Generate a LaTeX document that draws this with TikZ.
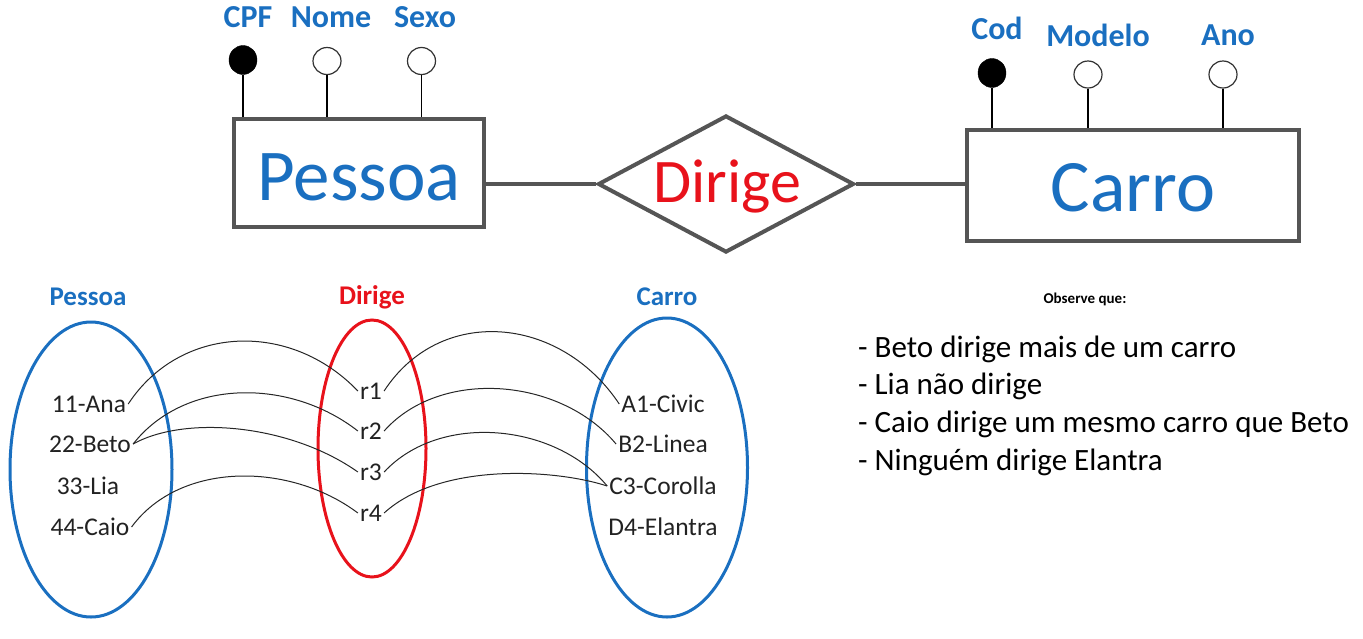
\documentclass[tikz,border=0pt]{standalone}
\usepackage{fontspec}
\setmainfont{Carlito}
\usetikzlibrary{shapes.geometric}
\definecolor{erblue}{HTML}{1A6FC0}
\definecolor{erred}{HTML}{E8121B}
\definecolor{ergray}{HTML}{555555}
\definecolor{txt}{HTML}{222222}
\tikzset{
  entity/.style={draw=ergray, line width=4pt, fill=white, inner sep=0pt, text=erblue,
    font=\fontsize{73}{80}\selectfont},
  relbox/.style={draw=ergray, line width=4pt, diamond, inner sep=0pt, fill=white},
  erlink/.style={draw=ergray, line width=4pt},
  keyattr/.style={draw=black, fill=black, ellipse, minimum width=28pt, minimum height=29pt, inner sep=0pt},
  attr/.style={draw=black!80, line width=1.2pt, fill=white, ellipse, minimum width=28pt, minimum height=27pt, inner sep=0pt},
  attrlbl/.style={text=erblue, font=\bfseries\fontsize{32}{36}\selectfont, inner sep=0pt},
  attrline/.style={draw=black, line width=1.4pt},
  settitle/.style={font=\bfseries\fontsize{27}{30}\selectfont, inner sep=0pt},
  setblue/.style={draw=erblue, line width=3pt},
  setred/.style={draw=erred, line width=3pt},
  item/.style={text=txt, font=\fontsize{25.5}{28}\selectfont, inner sep=2pt},
  map/.style={draw=black!85, line width=1pt},
  note/.style={text=black, font=\fontsize{31}{34}\selectfont, anchor=west, inner sep=0pt},
}
\begin{document}
\begin{tikzpicture}[x=1pt,y=-1pt]
\useasboundingbox (0,0) rectangle (1363,638);

% ---------- ER diagram ----------
\node[entity, minimum width=250pt, minimum height=108pt] (pessoa) at (359,173) {};
\node[text=erblue, font=\fontsize{73}{80}\selectfont, inner sep=0pt, anchor=base] (pessoaT) at (359,200) {Pessoa};
\node[entity, minimum width=332pt, minimum height=111pt] (carro) at (1133,185.5) {};
\node[text=erblue, font=\fontsize{74}{80}\selectfont, inner sep=0pt, anchor=base] (carroT) at (1133,211) {Carro};
\node[relbox, minimum width=256pt, minimum height=137pt] (rel) at (726,184) {};
\node[text=erred, font=\fontsize{62}{70}\selectfont, inner sep=0pt, anchor=base] (relT) at (727,202) {Dirige};

\draw[erlink] (pessoa.east |- rel.west) -- (rel.west);
\draw[erlink] (rel.east) -- (carro.west |- rel.east);

% Pessoa attributes
\node[keyattr] (cpf) at (243,60) {};
\node[attr] (nome) at (327,61) {};
\node[attr] (sexo) at (421.5,61) {};
\node[attrlbl] (cpfL) at (248,17) {CPF};
\node[attrlbl] (nomeL) at (331,17) {Nome};
\node[attrlbl] (sexoL) at (425,17) {Sexo};
\draw[attrline] (cpf.south) -- (cpf.south |- pessoa.north);
\draw[attrline] (nome.south) -- (nome.south |- pessoa.north);
\draw[attrline] (sexo.south) -- (sexo.south |- pessoa.north);

% Carro attributes
\node[keyattr] (cod) at (992,73) {};
\node[attr] (modelo) at (1088,74.5) {};
\node[attr] (ano) at (1223,74.5) {};
\node[attrlbl] (codL) at (997,28) {Cod};
\node[attrlbl] (modeloL) at (1098,35) {Modelo};
\node[attrlbl] (anoL) at (1228,35) {Ano};
\draw[attrline] (cod.south) -- (cod.south |- carro.north);
\draw[attrline] (modelo.south) -- (modelo.south |- carro.north);
\draw[attrline] (ano.south) -- (ano.south |- carro.north);

% ---------- Set diagram ----------
\node[settitle, text=erblue] (tP) at (88,297) {Pessoa};
\node[settitle, text=erred] (tD) at (372,297) {Dirige};
\node[settitle, text=erblue] (tC) at (667,297) {Carro};

\draw[setblue] (91,469.5) ellipse [x radius=81, y radius=147.5];
\draw[setred] (372,448.5) ellipse [x radius=54, y radius=128.5];
\draw[setblue] (667,467.5) ellipse [x radius=80.5, y radius=149.5];

\node[item] (ana) at (89,404) {11-Ana};
\node[item] (beto) at (90,444) {22-Beto};
\node[item] (lia) at (88,486) {33-Lia};
\node[item] (caio) at (90,527) {44-Caio};

\node[item] (r1) at (371,391) {r1};
\node[item] (r2) at (371,431) {r2};
\node[item] (r3) at (371,472) {r3};
\node[item] (r4) at (371,513) {r4};

\node[item] (civic) at (663,404) {A1-Civic};
\node[item] (linea) at (663,444) {B2-Linea};
\node[item] (corolla) at (663,486) {C3-Corolla};
\node[item] (elantra) at (663,527) {D4-Elantra};

\draw[map] (ana.east) .. controls (180,325) and (290,320) .. (r1.west);
\draw[map] (beto.east) .. controls (185,378) and (290,378) .. (r2.west);
\draw[map] (beto.east) .. controls (185,415) and (290,424) .. (r3.west);
\draw[map] (caio.east) .. controls (180,461) and (290,462) .. (r4.west);

\draw[map] (r1.east) .. controls (440,305) and (560,315) .. (civic.west);
\draw[map] (r2.east) .. controls (440,368) and (560,377) .. (linea.west);
\draw[map] (r3.east) .. controls (440,412) and (555,423) .. (corolla.west);
\draw[map] (r4.east) .. controls (440,462) and (555,469) .. (corolla.west);

% ---------- Notes ----------
\node[font=\bfseries\fontsize{15}{17}\selectfont, inner sep=0pt] (obs) at (1085,299) {Observe que:};
\node[note] (n1) at (858,349) {- Beto dirige mais de um carro};
\node[note] (n2) at (858,386) {- Lia não dirige};
\node[note] (n3) at (858,424) {- Caio dirige um mesmo carro que Beto};
\node[note] (n4) at (858,462) {- Ninguém dirige Elantra};
\end{tikzpicture}
\end{document}
